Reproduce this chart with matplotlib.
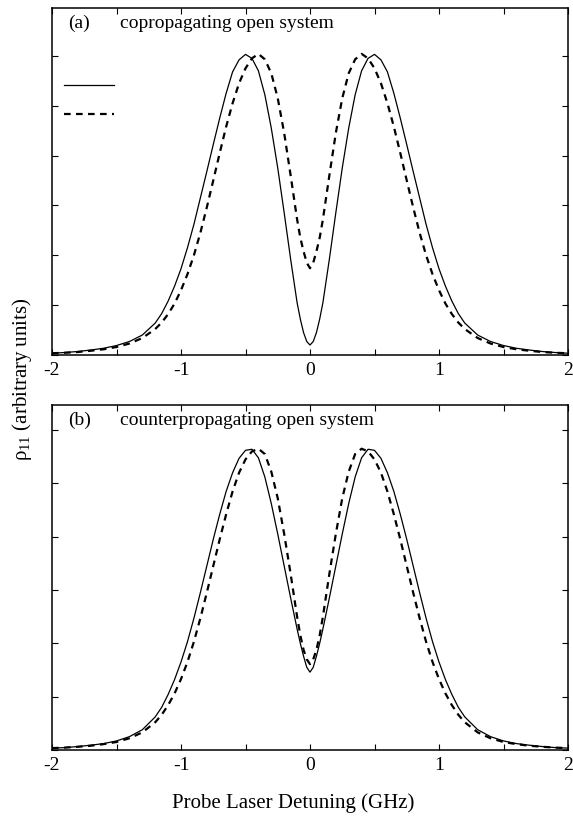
import matplotlib
matplotlib.use("Agg")
import matplotlib.pyplot as plt
from matplotlib.ticker import MultipleLocator, NullFormatter
from matplotlib.lines import Line2D

plt.rcParams['font.family'] = ['Liberation Serif', 'DejaVu Serif']
plt.rcParams['mathtext.fontset'] = 'custom'
plt.rcParams['mathtext.rm'] = 'Liberation Serif'
plt.rcParams['mathtext.it'] = 'Liberation Serif:italic'
plt.rcParams['axes.unicode_minus'] = False

# Probe detuning (GHz)
detuning = [-2.0, -1.9, -1.8, -1.7, -1.6, -1.5, -1.4, -1.3, -1.2, -1.15, -1.1, -1.05,
            -1.0, -0.95, -0.9, -0.85, -0.8, -0.75, -0.7, -0.65, -0.6, -0.55, -0.5, -0.45,
            -0.4, -0.35, -0.3, -0.25, -0.2, -0.15, -0.1, -0.075, -0.05, -0.025, 0.0,
            0.025, 0.05, 0.075, 0.1, 0.15, 0.2, 0.25, 0.3, 0.35, 0.4, 0.45, 0.5, 0.55,
            0.6, 0.65, 0.7, 0.75, 0.8, 0.85, 0.9, 0.95, 1.0, 1.05, 1.1, 1.15, 1.2, 1.3,
            1.4, 1.5, 1.6, 1.7, 1.8, 1.9, 2.0]

# (a) copropagating open system (arbitrary units)
co_solid = [0.035, 0.05, 0.07, 0.10, 0.135, 0.19, 0.27, 0.40, 0.64, 0.83, 1.08, 1.38,
            1.73, 2.15, 2.62, 3.15, 3.68, 4.22, 4.75, 5.25, 5.68, 5.92, 6.03, 5.95,
            5.70, 5.22, 4.55, 3.75, 2.85, 1.92, 1.05, 0.72, 0.45, 0.27, 0.20,
            0.27, 0.45, 0.72, 1.05, 1.92, 2.85, 3.75, 4.55, 5.22, 5.70, 5.95, 6.03, 5.92,
            5.68, 5.25, 4.75, 4.22, 3.68, 3.15, 2.62, 2.15, 1.73, 1.38, 1.08, 0.83, 0.64, 0.40,
            0.27, 0.19, 0.135, 0.10, 0.07, 0.05, 0.035]
co_dashed = [0.035, 0.045, 0.06, 0.085, 0.115, 0.16, 0.23, 0.34, 0.52, 0.65, 0.82, 1.03,
             1.30, 1.62, 2.00, 2.45, 2.96, 3.50, 4.05, 4.58, 5.05, 5.45, 5.75, 5.95,
             6.04, 5.93, 5.65, 5.15, 4.45, 3.60, 2.72, 2.35, 2.08, 1.85, 1.74,
             1.85, 2.08, 2.35, 2.72, 3.60, 4.45, 5.15, 5.65, 5.93, 6.04, 5.95, 5.75, 5.45,
             5.05, 4.58, 4.05, 3.50, 2.96, 2.45, 2.00, 1.62, 1.30, 1.03, 0.82, 0.65, 0.52, 0.34,
             0.23, 0.16, 0.115, 0.085, 0.06, 0.045, 0.035]

# (b) counterpropagating open system (arbitrary units)
counter_solid = [0.035, 0.045, 0.065, 0.09, 0.12, 0.17, 0.25, 0.38, 0.62, 0.80, 1.04, 1.32,
                 1.65, 2.03, 2.47, 2.95, 3.45, 3.95, 4.42, 4.85, 5.20, 5.47, 5.62, 5.64,
                 5.48, 5.12, 4.62, 4.05, 3.45, 2.85, 2.27, 2.00, 1.76, 1.55, 1.46,
                 1.55, 1.76, 2.00, 2.27, 2.85, 3.45, 4.05, 4.62, 5.12, 5.48, 5.64, 5.62, 5.47,
                 5.20, 4.85, 4.42, 3.95, 3.45, 2.95, 2.47, 2.03, 1.65, 1.32, 1.04, 0.80, 0.62, 0.38,
                 0.25, 0.17, 0.12, 0.09, 0.065, 0.045, 0.035]
counter_dashed = [0.035, 0.045, 0.06, 0.08, 0.11, 0.15, 0.22, 0.33, 0.52, 0.66, 0.84, 1.06,
                  1.33, 1.65, 2.03, 2.47, 2.95, 3.45, 3.95, 4.42, 4.85, 5.20, 5.45, 5.60,
                  5.65, 5.55, 5.22, 4.72, 4.05, 3.30, 2.50, 2.15, 1.88, 1.70, 1.61,
                  1.70, 1.88, 2.15, 2.50, 3.30, 4.05, 4.72, 5.22, 5.55, 5.65, 5.60, 5.45, 5.20,
                  4.85, 4.42, 3.95, 3.45, 2.95, 2.47, 2.03, 1.65, 1.33, 1.06, 0.84, 0.66, 0.52, 0.33,
                  0.22, 0.15, 0.11, 0.08, 0.06, 0.045, 0.035]

x_ticks = [-2, -1, 0, 1, 2]
x_tick_labels = ['-2', '-1', '0', '1', '2']
panel_labels = ['(a)', '(b)']
panel_titles = ['copropagating open system', 'counterpropagating open system']

FS = 14
W, H = 573, 818
fig = plt.figure(figsize=(W / 100, H / 100), dpi=100)
ax1 = fig.add_axes([52 / W, 1 - 355 / H, 516 / W, 347 / H])
ax2 = fig.add_axes([52 / W, 1 - 750 / H, 516 / W, 345 / H])

dash_style = dict(color='black', lw=1.6, linestyle=(0, (3.0, 2.4)))
solid_style = dict(color='black', lw=0.9)

for ax, ys, yd, ytop, lab, title in [
        (ax1, co_solid, co_dashed, 6.96, panel_labels[0], panel_titles[0]),
        (ax2, counter_solid, counter_dashed, 6.47, panel_labels[1], panel_titles[1])]:
    ax.plot(detuning, ys, **solid_style)
    ax.plot(detuning, yd, **dash_style)
    ax.set_xlim(-2, 2)
    ax.set_ylim(0, ytop)
    ax.set_xticks(x_ticks)
    ax.set_xticklabels(x_tick_labels, fontsize=FS)
    ax.xaxis.set_minor_locator(MultipleLocator(0.5))
    ax.yaxis.set_major_locator(MultipleLocator(1))
    ax.yaxis.set_major_formatter(NullFormatter())
    ax.tick_params(which='both', direction='in', length=4, width=0.8,
                   top=True, right=True, pad=5)
    for sp in ax.spines.values():
        sp.set_linewidth(1.1)
    ax.text(16 / 516, 0.955, lab, transform=ax.transAxes, fontsize=FS,
            va='center', ha='left')
    ax.text(68 / 516, 0.955, title, transform=ax.transAxes, fontsize=FS,
            va='center', ha='left')
    if ax is ax1:
        ax.legend([Line2D([], [], **solid_style), Line2D([], [], **dash_style)],
                  ['', ''], loc='center left', bbox_to_anchor=(12 / 516, 0.732),
                  frameon=False, fontsize=10, handlelength=3.6, handletextpad=0,
                  borderpad=0, borderaxespad=0, labelspacing=1.2)

ax2.set_xlabel('Probe Laser Detuning (GHz)', fontsize=15, va='top')
ax2.xaxis.set_label_coords(241 / 516, -0.125)
fig.text(22 / W, 1 - 379 / H, r'$\mathregular{\rho_{11}}$ (arbitrary units)',
         rotation=90, fontsize=15, va='center', ha='center')

fig.savefig('out.png', dpi=100)
